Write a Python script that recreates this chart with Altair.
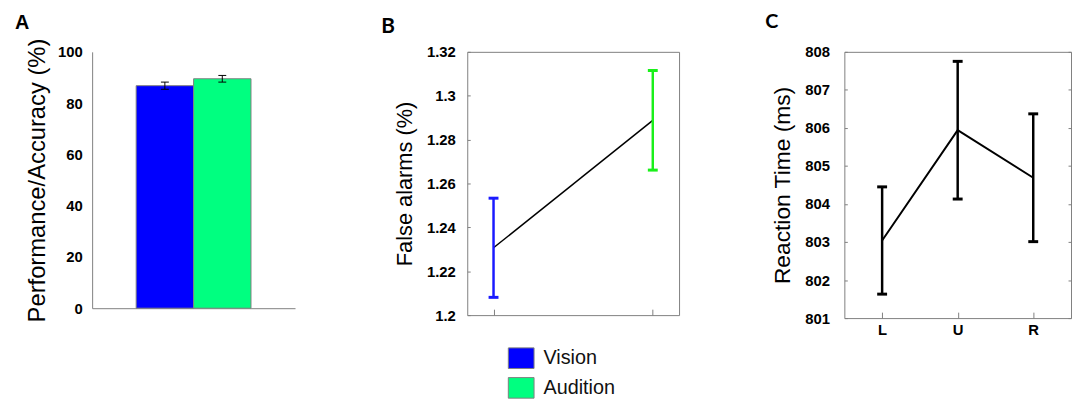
import altair as alt
import pandas as pd

# ---------------- data ----------------
# Panel A: accuracy per modality
modalities = ["Vision", "Audition"]
accuracy = [86.8, 89.5]
accuracy_err = [1.4, 1.3]
accuracy_ticks = [0, 20, 40, 60, 80, 100]
bar_colors = ["#0000FF", "#00FF80"]

# Panel B: false alarms per modality
false_alarms = [1.2307, 1.2888]
false_alarms_err = [0.0226, 0.0227]
false_alarm_ticks = [1.2, 1.22, 1.24, 1.26, 1.28, 1.3, 1.32]
errorbar_colors = ["#1A1AFF", "#1AF01A"]

# Panel C: reaction time per condition
conditions = ["L", "U", "R"]
reaction_time = [803.04, 805.94, 804.69]
reaction_time_err = [1.41, 1.81, 1.68]
reaction_time_ticks = [801, 802, 803, 804, 805, 806, 807, 808]

FONT = "Liberation Sans"
GRAY = "#808080"


def letter(text, dx, dy, offset, size, font):
    return alt.TitleParams(text, anchor="start", frame="group", dx=dx, dy=dy, offset=offset,
                           baseline="alphabetic", font=font, fontSize=size,
                           fontWeight="bold", color="black")


label_style = dict(labelFont=FONT, labelFontSize=15, labelFontWeight="bold", labelColor="black")
title_style = dict(titleFont=FONT, titleFontWeight="normal", titleColor="black")

# ---------------- panel A ----------------
dfA = pd.DataFrame({"modality": modalities, "value": accuracy, "err": accuracy_err})
baseA = alt.Chart(dfA).transform_calculate(lo="datum.value - datum.err", hi="datum.value + datum.err")


def xA():
    return alt.X("modality:N", sort=modalities,
                 scale=alt.Scale(paddingInner=0, paddingOuter=0.767),
                 axis=alt.Axis(labels=False, ticks=False, title=None, domainColor=GRAY, grid=False))


def yA(field):
    return alt.Y(field, scale=alt.Scale(domain=[0, 100], nice=False),
                 axis=alt.Axis(values=accuracy_ticks, ticks=False, grid=False, domainColor=GRAY,
                               labelPadding=10, title="Performance/Accuracy (%)", titleFontSize=24,
                               titlePadding=8, **label_style, **title_style))


barsA = baseA.mark_bar(stroke=GRAY, strokeWidth=1).encode(
    x=xA(), y=yA("value:Q"),
    color=alt.Color("modality:N", scale=alt.Scale(domain=modalities, range=bar_colors), legend=None))
rulesA = baseA.mark_rule(color="black", strokeWidth=1).encode(x=xA(), y=yA("lo:Q"), y2="hi:Q")
capsHiA = baseA.mark_tick(color="black", orient="horizontal", size=8, thickness=1, opacity=1).encode(
    x=xA(), y=yA("hi:Q"))
capsLoA = baseA.mark_tick(color="black", orient="horizontal", size=8, thickness=1, opacity=1).encode(
    x=xA(), y=yA("lo:Q"))

panelA = alt.layer(barsA, rulesA, capsHiA, capsLoA).properties(
    width=205, height=259, title=letter("A", -78, 19, 8, 20, FONT),
    view=alt.ViewBackground(stroke="transparent"))

# ---------------- panel B ----------------
dfB = pd.DataFrame({"modality": modalities, "value": false_alarms, "err": false_alarms_err})
baseB = alt.Chart(dfB).transform_calculate(lo="datum.value - datum.err", hi="datum.value + datum.err")


def xB():
    return alt.X("modality:N", sort=modalities, scale=alt.Scale(type="point", padding=0.165),
                 axis=alt.Axis(labels=False, title=None, domain=False, grid=False, ticks=True,
                               tickSize=6, offset=-6, tickColor=GRAY))


def yB(field):
    return alt.Y(field, scale=alt.Scale(domain=[1.2, 1.32], nice=False, zero=False),
                 axis=alt.Axis(values=false_alarm_ticks, format="~g", domain=False, grid=False,
                               tickSize=3, offset=-3, tickColor=GRAY, labelPadding=12,
                               labelFlush=False, labelOverlap=False,
                               title="False alarms (%)", titleFontSize=22, titlePadding=10,
                               **label_style, **title_style))


is_vision = "datum.modality === '%s'" % modalities[0]
errB_color = alt.condition(is_vision, alt.value(errorbar_colors[0]), alt.value(errorbar_colors[1]))

lineB = baseB.mark_line(color="black", strokeWidth=1.5).encode(x=xB(), y=yB("value:Q"))
rulesB = baseB.mark_rule(strokeWidth=2.5).encode(x=xB(), y=yB("lo:Q"), y2="hi:Q", stroke=errB_color)
capsHiB = baseB.mark_tick(orient="horizontal", size=10, thickness=3, opacity=1).encode(
    x=xB(), y=yB("hi:Q"), fill=errB_color)
capsLoB = baseB.mark_tick(orient="horizontal", size=10, thickness=3, opacity=1).encode(
    x=xB(), y=yB("lo:Q"), fill=errB_color)
legendB = baseB.mark_square(opacity=0).encode(
    x=xB(), y=yB("value:Q"),
    color=alt.Color("modality:N", scale=alt.Scale(domain=modalities, range=bar_colors),
                    legend=alt.Legend(title=None, orient="none", legendX=41, legendY=296,
                                      symbolType="M-1,-0.8H1V0.8H-1Z", symbolSize=676,
                                      symbolOpacity=1, symbolStrokeColor=GRAY, symbolStrokeWidth=1,
                                      labelFont=FONT, labelFontSize=20, labelColor="#111111",
                                      labelOffset=9, rowPadding=4, padding=0)))

panelB = alt.layer(lineB, rulesB, capsHiB, capsLoB, legendB).properties(
    width=214, height=266, title=letter("B", -87, 22, 13, 21, "Lato"),
    view=alt.ViewBackground(stroke=GRAY, strokeWidth=1))

# ---------------- panel C ----------------
dfC = pd.DataFrame({"condition": conditions, "value": reaction_time, "err": reaction_time_err})
baseC = alt.Chart(dfC).transform_calculate(lo="datum.value - datum.err", hi="datum.value + datum.err")


def xC():
    return alt.X("condition:N", sort=conditions, scale=alt.Scale(type="point", padding=0.5),
                 axis=alt.Axis(labelAngle=0, title=None, domain=False, grid=False, tickSize=6,
                               offset=-6, tickColor=GRAY, labelPadding=5, **label_style))


scaleC = alt.Scale(domain=[801, 808], nice=False, zero=False)
axisC_left = alt.Axis(values=reaction_time_ticks, format="d", domain=False, grid=False, tickSize=3,
                      offset=-3, tickColor=GRAY, labelPadding=15, title="Reaction Time (ms)",
                      titleFontSize=23, titlePadding=10, **label_style, **title_style)
axisC_right = alt.Axis(orient="right", values=reaction_time_ticks, labels=False, domain=False,
                       grid=False, tickSize=3, offset=-3, tickColor=GRAY, title=None)

lineC = baseC.mark_line(color="black", strokeWidth=2).encode(
    x=xC(), y=alt.Y("value:Q", scale=scaleC, axis=axisC_left))
rulesC = baseC.mark_rule(color="black", strokeWidth=2.5).encode(
    x=xC(), y=alt.Y("lo:Q", scale=scaleC, axis=axisC_right), y2="hi:Q")
capsHiC = baseC.mark_tick(color="black", orient="horizontal", size=10, thickness=3, opacity=1).encode(
    x=xC(), y=alt.Y("hi:Q", scale=scaleC, axis=None))
capsLoC = baseC.mark_tick(color="black", orient="horizontal", size=10, thickness=3, opacity=1).encode(
    x=xC(), y=alt.Y("lo:Q", scale=scaleC, axis=None))

panelC = alt.layer(lineC, rulesC, capsHiC, capsLoC).resolve_axis(y="independent").properties(
    width=229, height=269, title=letter("C", -80, 12, 8.9, 20, "Lato"),
    view=alt.ViewBackground(stroke=GRAY, strokeWidth=1))

chart = alt.hconcat(panelA, panelB, panelC, spacing=85).resolve_scale(
    color="independent"
).properties(padding={"left": 6, "top": 1, "right": 0, "bottom": 50}, background="white")

chart.save("out.html", embed_options={"renderer": "svg", "actions": False})
